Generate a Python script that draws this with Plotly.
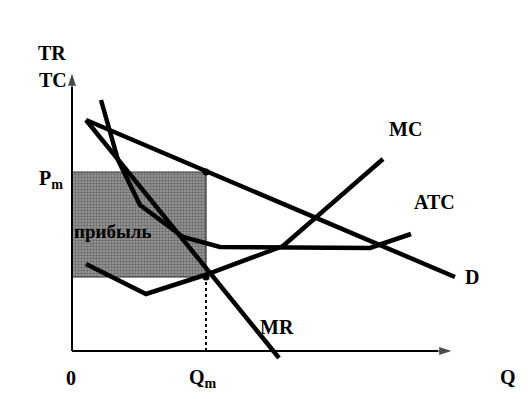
import plotly.graph_objects as go

# Data (units: Q right of origin, P above the Q-axis)
D_q = [14, 383]
D_p = [231, 74]

MR_q = [14, 207]
MR_p = [231, -7]

ATC_q = [29, 46, 68, 111, 148, 298, 339]
ATC_p = [251, 191, 146, 114, 104, 103, 117]

MC_q = [14, 74, 133, 211, 311]
MC_p = [87, 57, 76, 105, 192]

Qm = 134
Pm = 179
ATCm = 74

profit_q = [0, Qm, Qm, 0, 0]
profit_p = [ATCm, ATCm, Pm, Pm, ATCm]

axis_q_end = 381
axis_p_end = 279

FONT = "Liberation Serif"

fig = go.Figure()

# profit rectangle
fig.add_trace(go.Scatter(
    x=profit_q, y=profit_p, mode="lines", fill="toself",
    fillcolor="#808080",
    fillpattern=dict(shape=".", bgcolor="#949494", fgcolor="#2e2e2e", size=3, solidity=0.4),
    line=dict(color="#333333", width=1.2), hoverinfo="skip", showlegend=False))

# dotted drop line at Qm
fig.add_trace(go.Scatter(x=[Qm, Qm], y=[0, ATCm], mode="lines",
                         line=dict(color="black", width=2, dash="dot"), showlegend=False))

# axes with arrowheads
fig.add_trace(go.Scatter(x=[0, 0], y=[0, axis_p_end], mode="lines+markers",
                         line=dict(color="black", width=2),
                         marker=dict(symbol="arrow", size=[0, 15], color="black", angleref="previous"),
                         showlegend=False))
fig.add_trace(go.Scatter(x=[0, axis_q_end], y=[0, 0], mode="lines+markers",
                         line=dict(color="black", width=2),
                         marker=dict(symbol="arrow", size=[0, 15], color="black", angleref="previous"),
                         showlegend=False))

line_style = dict(color="black", width=4.5)
for xq, yp in [(D_q, D_p), (MR_q, MR_p), (ATC_q, ATC_p), (MC_q, MC_p)]:
    fig.add_trace(go.Scatter(x=xq, y=yp, mode="lines", line=line_style, showlegend=False))

# points at Qm
fig.add_trace(go.Scatter(x=[Qm, Qm], y=[Pm, ATCm], mode="markers",
                         marker=dict(color="black", size=7), showlegend=False))

labels = [
    ("TR", -20, 298), ("TC", -19, 271),
    ("P<sub>m</sub>", -21, 172), ("0", -1, -27),
    ("Q<sub>m</sub>", 131, -27), ("Q", 436, -26),
    ("MC", 333, 222), ("ATC", 362, 149), ("D", 400, 74), ("MR", 205, 24),
    ("прибыль", 41, 120),
]
ann = []
for t, xq, yp in labels:
    ann.append(dict(x=xq, y=yp, xref="x", yref="y", text="<b>" + t + "</b>",
                    showarrow=False,
                    font=dict(family=FONT, size=20 if t != "прибыль" else 19, color="black")))

# the page has an 8px body margin: figure spans window px 8..528 / 8..399
fig.update_layout(
    width=520, height=391, margin=dict(l=0, r=0, t=0, b=0),
    paper_bgcolor="white", plot_bgcolor="white",
    xaxis=dict(range=[-64, 456], visible=False, fixedrange=True),
    yaxis=dict(range=[-48, 343], visible=False, fixedrange=True),
    annotations=ann, showlegend=False,
)

fig.write_html("out.html")
